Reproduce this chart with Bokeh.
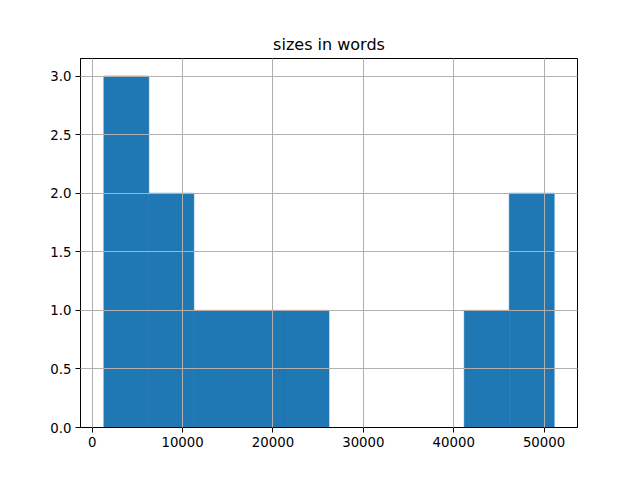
from bokeh.plotting import figure
from bokeh.models import FixedTicker, BasicTickFormatter, NumeralTickFormatter, Range1d
from bokeh.embed import file_html
from bokeh.resources import INLINE

# histogram of document sizes in words
bin_edges = [1280, 6265, 11250, 16235, 21220, 26205, 31190, 36175, 41160, 46145, 51130]
counts = [3, 2, 1, 1, 1, 0, 0, 0, 1, 2]
x_ticks = [0, 10000, 20000, 30000, 40000, 50000]
y_ticks = [0.0, 0.5, 1.0, 1.5, 2.0, 2.5, 3.0]
title_text = "sizes in words"

p = figure(width=624, height=464, output_backend="svg", toolbar_location=None,
           title=title_text,
           x_range=Range1d(-1300, 53700), y_range=Range1d(0, 3.15),
           min_border_left=80, min_border_right=47, min_border_top=58, min_border_bottom=37)

p.quad(left=bin_edges[:-1], right=bin_edges[1:], top=counts, bottom=0,
       fill_color="#1f77b4", line_color="#1f77b4", line_width=0.5)

p.title.align = "center"
p.title.text_font = "DejaVu Sans"
p.title.text_font_size = "16px"
p.title.text_font_style = "normal"
p.title.text_color = "black"
p.title.standoff = 10

p.outline_line_color = "black"
p.outline_line_width = 1
p.outline_line_alpha = 1

for ax in (p.xaxis[0], p.yaxis[0]):
    ax.axis_line_color = "black"
    ax.major_tick_line_color = "black"
    ax.major_tick_out = 5
    ax.major_tick_in = 0
    ax.minor_tick_line_color = None
    ax.major_label_text_font = "DejaVu Sans"
    ax.major_label_text_font_size = "13.3px"
    ax.major_label_text_color = "black"
    ax.major_label_standoff = 4

p.xaxis.ticker = FixedTicker(ticks=x_ticks)
p.xaxis.formatter = BasicTickFormatter(use_scientific=False)
p.yaxis.ticker = FixedTicker(ticks=y_ticks)
p.yaxis.formatter = NumeralTickFormatter(format="0.0")

for g in (p.xgrid[0], p.ygrid[0]):
    g.grid_line_color = "#b0b0b0"
    g.grid_line_width = 1
    g.level = "annotation"

p.background_fill_color = "white"
p.border_fill_color = "white"

open("out.html", "w").write(file_html(p, INLINE))
